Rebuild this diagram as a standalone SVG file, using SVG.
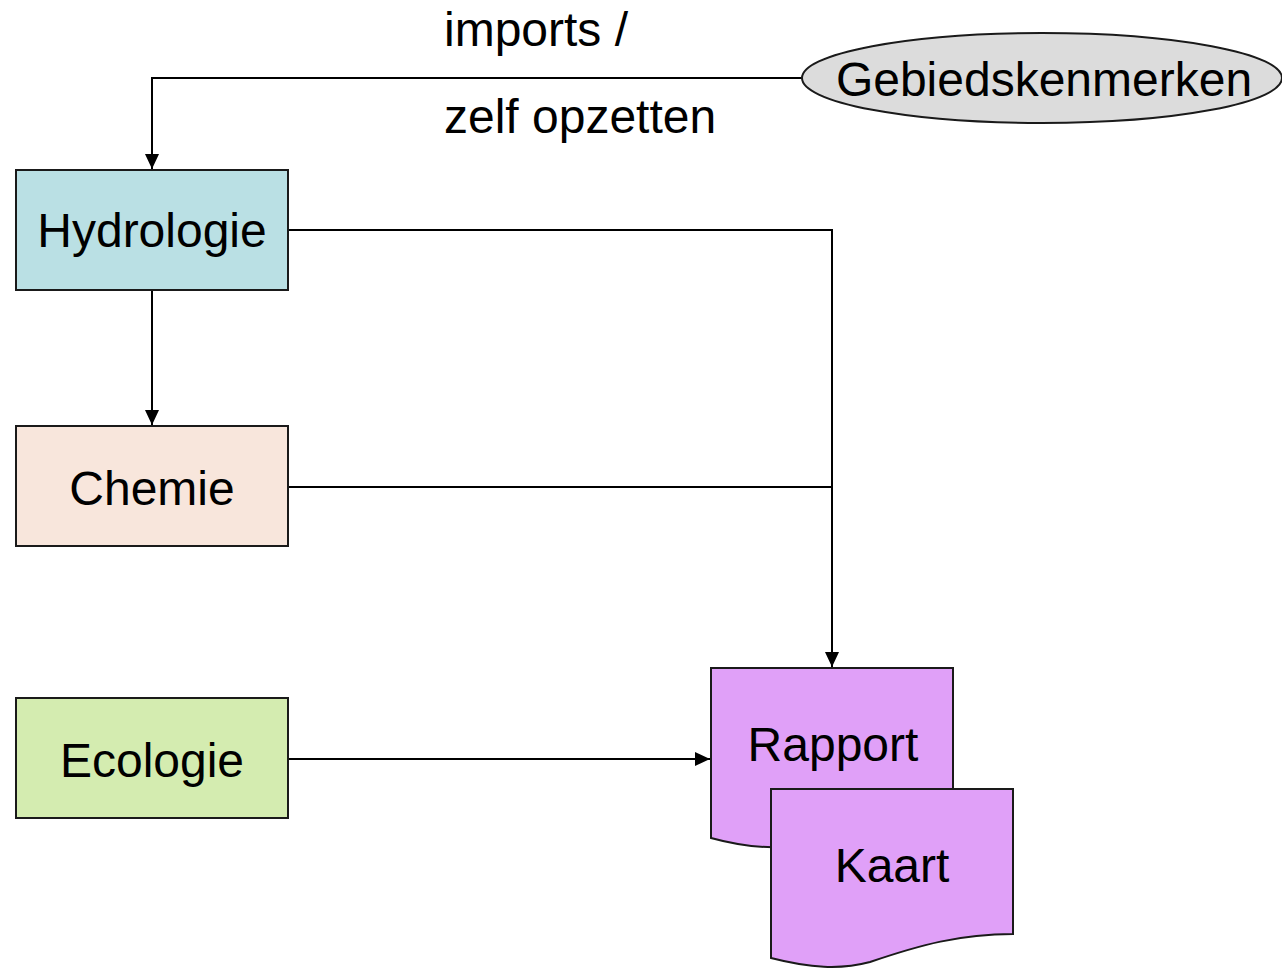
<svg xmlns="http://www.w3.org/2000/svg" width="1282" height="969" viewBox="0 0 1282 969">
<style>
text{font-family:"Liberation Sans",Arial,sans-serif;font-size:48px;fill:#000}
.box{stroke:#1a1a1a;stroke-width:2}
.c{text-anchor:middle}
.conn{fill:none;stroke:#000;stroke-width:2}
</style>
<defs>
<marker id="ah" markerWidth="16" markerHeight="16" refX="15" refY="8" orient="auto" markerUnits="userSpaceOnUse">
<path d="M0,1 L15,8 L0,15 Z" fill="#000"/>
</marker>
</defs>
<rect width="1282" height="969" fill="#fff"/>
<g id="connectors">
<path class="conn" d="M802,78 H152 V169" marker-end="url(#ah)"/>
<path class="conn" d="M152,290 V425" marker-end="url(#ah)"/>
<path class="conn" d="M288,230 H832 V667" marker-end="url(#ah)"/>
<path class="conn" d="M288,487 H832"/>
<path class="conn" d="M288,759 H710" marker-end="url(#ah)"/>
</g>
<g id="label-imports">
<text x="444" y="46">imports /</text>
<text x="444" y="133">zelf opzetten</text>
</g>
<g id="gebiedskenmerken">
<ellipse class="box" cx="1042" cy="78" rx="240" ry="45" fill="#dcdcdc"/>
<text class="c" x="1044" y="96">Gebiedskenmerken</text>
</g>
<g id="hydrologie">
<rect class="box" x="16" y="170" width="272" height="120" fill="#bae0e4"/>
<text class="c" x="152" y="247">Hydrologie</text>
</g>
<g id="chemie">
<rect class="box" x="16" y="426" width="272" height="120" fill="#f8e6dc"/>
<text class="c" x="152" y="505">Chemie</text>
</g>
<g id="ecologie">
<rect class="box" x="16" y="698" width="272" height="120" fill="#d4ecb0"/>
<text class="c" x="152" y="777">Ecologie</text>
</g>
<g id="rapport">
<path class="box" fill="#e0a0f8" d="M711,668 H953 V813 C900,813 860,830 800,845 C770,850 740,846 711,838 Z"/>
<text class="c" x="833" y="761">Rapport</text>
</g>
<g id="kaart">
<path class="box" fill="#e0a0f8" d="M771,789 H1013 V934 C960,934 920,945 870,962 C840,970 810,968 771,958 Z"/>
<text class="c" x="892" y="882">Kaart</text>
</g>
</svg>
